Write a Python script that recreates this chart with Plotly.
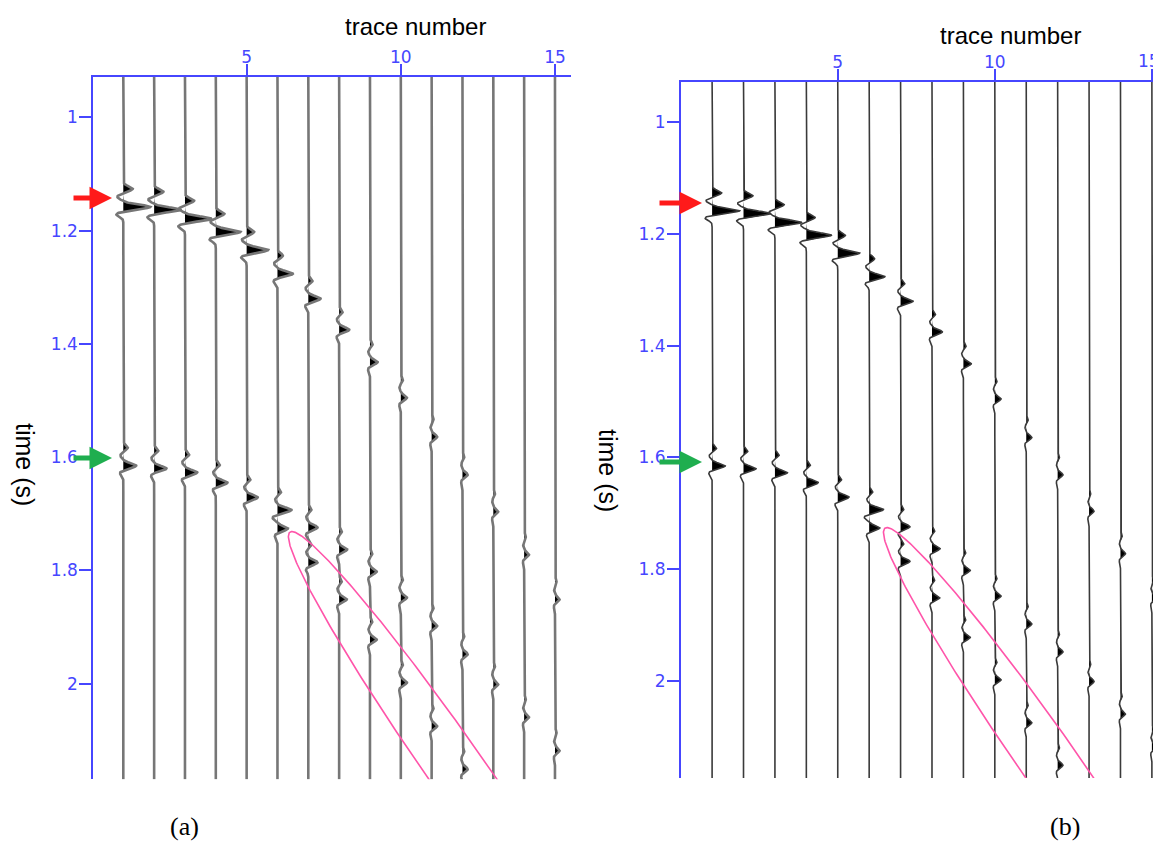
import numpy as np
import plotly.graph_objects as go

# ---------------- data ----------------
trace_numbers = list(range(1, 16))

# event 1 (red arrow): main positive peak time (s) and amplitude (trace units)
ev1_time = [1.158, 1.163, 1.179, 1.202, 1.234, 1.276, 1.320, 1.375, 1.432,
            1.495, 1.564, 1.631, 1.696, 1.772, 1.851]
ev1_amp = [0.88, 0.86, 0.85, 0.80, 0.70, 0.50, 0.40, 0.33, 0.25,
           0.20, 0.18, 0.17, 0.16, 0.16, 0.15]

# event 2 (green arrow)
ev2_time = [1.615, 1.620, 1.627, 1.645, 1.671, 1.693, 1.724, 1.763, 1.802,
            1.848, 1.898, 1.948, 2.001, 2.059, 2.118]
ev2_amp = [0.42, 0.40, 0.40, 0.38, 0.36, 0.34, 0.30, 0.26, 0.22,
           0.20, 0.18, 0.17, 0.16, 0.16, 0.15]

# event 3 (inside the pink ellipse)
ev3_time = [None, None, None, None, None, 1.726, 1.786, 1.851, 1.922,
            1.998, 2.075, 2.151, None, None, None]
ev3_amp = [0, 0, 0, 0, 0, 0.34, 0.30, 0.25, 0.22,
           0.20, 0.18, 0.17, 0, 0, 0]

x_tick_vals = [5, 10, 15]
y_tick_vals = [1.0, 1.2, 1.4, 1.6, 1.8, 2.0]
y_tick_text = ["1", "1.2", "1.4", "1.6", "1.8", "2"]

# wavelet lobes: (time offset s, relative amplitude)
wavelet_lobes = [(-0.032, 0.35), (-0.018, -0.22), (0.0, 1.0), (0.013, -0.26)]
lobe_sigma = 0.0042

# ellipse (data units: trace, time) and rotation
ellipse_center = (11.80, 2.152)
ellipse_semi_px = (290.0, 28.0)
ellipse_angle_deg = 55.0

# ---------------- page geometry (browser body has an 8px margin) ----------------
OFF = 8
W, H = 1161 - OFF, 842 - OFF


def px(X):
    return (X - OFF) / W


def py(Y):
    return 1 - (Y - OFF) / H


BLUE = "#4646ff"
TICKFONT = dict(family="DejaVu Sans", size=17, color=BLUE)
panels = [
    dict(xa="x", ya="y", xdom=[px(93.3), px(570.7)],
         ydom=[py(779.3), py(76.7)],
         xr=[0.027, 15.51], yr=[2.169, 0.928],
         line_color="#767676", line_w=2.6, label="(a)", label_x=184,
         title_x=415, title_y=27, ylab_x=25, ylab_y=464,
         arrow_tip_x=112, arrow_tail_x=72, red_y=198, green_y=458),
    dict(xa="x2", ya="y2", xdom=[px(681), 1.0],
         ydom=[py(778), py(81.7)],
         xr=[0.01, 15.29], yr=[2.174, 0.927],
         line_color="#3a3a3a", line_w=1.6, label="(b)", label_x=1065,
         title_x=1010, title_y=35, ylab_x=608, ylab_y=470,
         arrow_tip_x=702, arrow_tail_x=658, red_y=203, green_y=462),
]

fig = go.Figure()


def wavelet(tt, t0, amp):
    out = np.zeros_like(tt)
    if t0 is None or amp == 0:
        return out
    for off, rel in wavelet_lobes:
        out += amp * rel * np.exp(-0.5 * ((tt - t0 - off) / lobe_sigma) ** 2)
    return out


for p in panels:
    t = np.arange(p["yr"][1], p["yr"][0] + 0.0005, 0.0005)
    for i, tr in enumerate(trace_numbers):
        s = (wavelet(t, ev1_time[i], ev1_amp[i])
             + wavelet(t, ev2_time[i], ev2_amp[i])
             + wavelet(t, ev3_time[i], ev3_amp[i]))
        pos = np.clip(s, 0, None)
        fx = np.concatenate([tr + pos, np.full(len(t), tr)[::-1]])
        fy = np.concatenate([t, t[::-1]])
        fig.add_trace(go.Scatter(x=fx, y=fy, mode="lines", fill="toself",
                                 fillcolor="black", line=dict(width=0),
                                 xaxis=p["xa"], yaxis=p["ya"],
                                 hoverinfo="skip", showlegend=False))
        fig.add_trace(go.Scatter(x=tr + s, y=t, mode="lines",
                                 line=dict(color=p["line_color"], width=p["line_w"]),
                                 xaxis=p["xa"], yaxis=p["ya"],
                                 hoverinfo="skip", showlegend=False))

    # pink ellipse (pixel-shaped, converted to data units with panel scale)
    x0, x1 = p["xr"]
    y1, y0 = p["yr"]
    xdom, ydom = p["xdom"], p["ydom"]
    px_per_tr = (xdom[1] - xdom[0]) * W / (x1 - x0)
    px_per_s = (ydom[1] - ydom[0]) * H / (y1 - y0)
    th = np.linspace(0, 2 * np.pi, 400)
    ang = np.deg2rad(ellipse_angle_deg)
    a, b = ellipse_semi_px
    ex = a * np.cos(th) * np.cos(ang) - b * np.sin(th) * np.sin(ang)
    ey = a * np.cos(th) * np.sin(ang) + b * np.sin(th) * np.cos(ang)
    fig.add_trace(go.Scatter(x=ellipse_center[0] + ex / px_per_tr,
                             y=ellipse_center[1] + ey / px_per_s,
                             mode="lines", line=dict(color="#ff55aa", width=1.6),
                             xaxis=p["xa"], yaxis=p["ya"],
                             hoverinfo="skip", showlegend=False))

layout_axes = {}
for k, p in enumerate(panels):
    sx = "xaxis" if k == 0 else "xaxis2"
    sy = "yaxis" if k == 0 else "yaxis2"
    layout_axes[sx] = dict(domain=p["xdom"], range=p["xr"], side="top",
                           anchor=p["ya"], showline=True, linecolor=BLUE,
                           linewidth=2, ticks="outside", ticklen=11,
                           tickwidth=2, tickcolor=BLUE, tickvals=x_tick_vals,
                           tickfont=TICKFONT, ticklabelstandoff=-6,
                           showgrid=False, zeroline=False, mirror=False,
                           automargin=False)
    layout_axes[sy] = dict(domain=p["ydom"], range=p["yr"], anchor=p["xa"],
                           showline=True, linecolor=BLUE, linewidth=2,
                           ticks="outside", ticklen=12, tickwidth=2,
                           tickcolor=BLUE, tickvals=y_tick_vals,
                           ticktext=y_tick_text, tickfont=TICKFONT,
                           ticklabelstandoff=-2,
                           showgrid=False, zeroline=False, automargin=False)

annotations = []
for p in panels:
    annotations.append(dict(text="trace number", x=px(p["title_x"]),
                            y=py(p["title_y"]), xref="paper", yref="paper",
                            showarrow=False, xanchor="center", yanchor="middle",
                            font=dict(family="Liberation Sans", size=24, color="black")))
    annotations.append(dict(text="time (s)", x=px(p["ylab_x"]),
                            y=py(p["ylab_y"]), xref="paper", yref="paper",
                            showarrow=False, textangle=90, xanchor="center",
                            yanchor="middle",
                            font=dict(family="Liberation Sans", size=25, color="black")))
    annotations.append(dict(text=p["label"], x=px(p["label_x"]),
                            y=py(826), xref="paper", yref="paper",
                            showarrow=False, xanchor="center", yanchor="middle",
                            font=dict(family="Liberation Serif", size=26, color="black")))
    for yy, col in ((p["red_y"], "#ff1a1a"), (p["green_y"], "#1fae4f")):
        annotations.append(dict(text="", x=px(p["arrow_tip_x"]), y=py(yy),
                                xref="paper", yref="paper", showarrow=True,
                                ax=p["arrow_tail_x"] - p["arrow_tip_x"], ay=0,
                                axref="pixel", ayref="pixel",
                                arrowhead=2, arrowsize=0.9, arrowwidth=5,
                                arrowcolor=col))

# the right panel's last tick label sits at the page edge
annotations.append(dict(text="15", x=1.0, y=py(61), xref="paper", yref="paper",
                        showarrow=False, xanchor="right", yanchor="middle",
                        borderpad=0, font=TICKFONT))

fig.update_layout(width=W, height=H, margin=dict(l=0, r=0, t=0, b=0),
                  paper_bgcolor="white", plot_bgcolor="white",
                  annotations=annotations, **layout_axes)

fig.write_html("out.html")
